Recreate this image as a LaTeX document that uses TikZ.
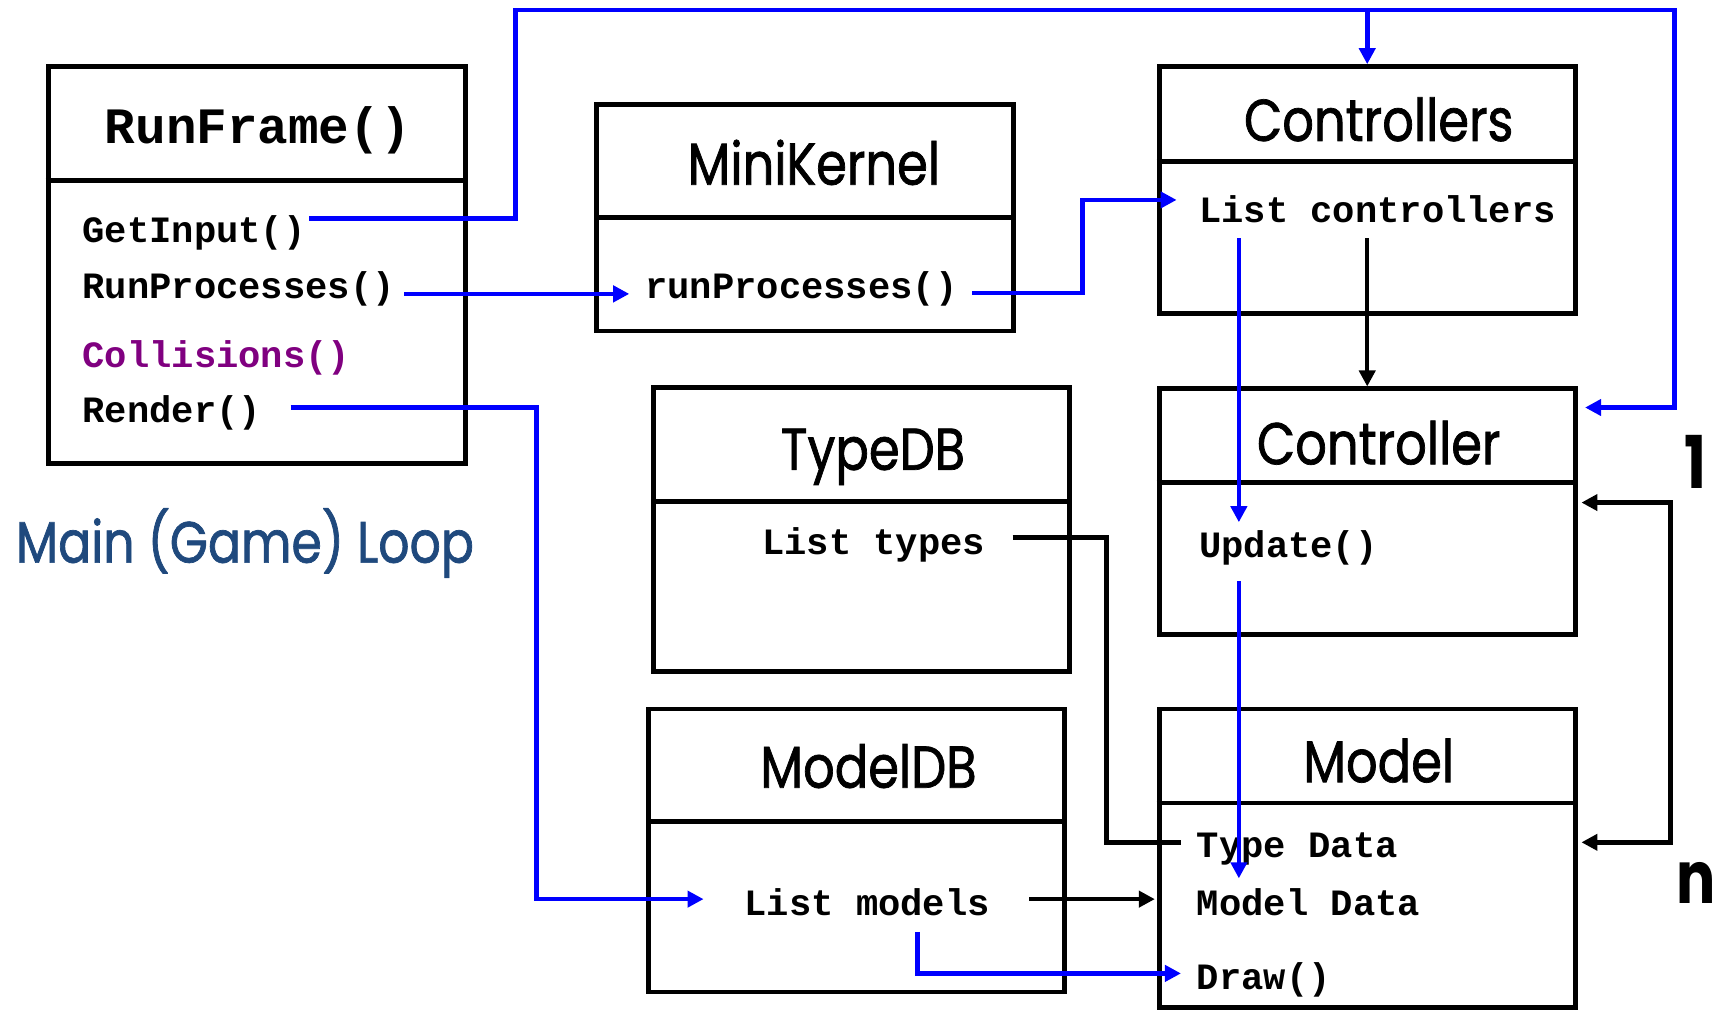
\documentclass[tikz,border=0pt]{standalone}
\usepackage{fontspec}
\usetikzlibrary{arrows.meta,fit}
\newfontfamily\codefont{Liberation Mono}
\newfontfamily\headfont{Poppins}[FakeStretch=0.84, FakeBold=1.2]
\newfontfamily\multfont{Poppins}[FakeStretch=0.8]
\definecolor{linkblue}{RGB}{0,0,255}
\definecolor{collpurple}{RGB}{128,0,128}
\definecolor{loopblue}{RGB}{31,73,125}

\begin{document}
\begin{tikzpicture}[
  x=0.3pt, y=-0.3pt,
  classbox/.style={draw, line width=1.35pt, inner sep=0pt},
  divider/.style={line width=1.35pt},
  code/.style={font=\codefont\bfseries\fontsize{10.2}{12}\selectfont, inner sep=0pt, anchor=base west},
  codetitle/.style={font=\codefont\bfseries\fontsize{14}{16}\selectfont, inner sep=0pt, anchor=base},
  title/.style={font=\headfont\fontsize{16.2}{19}\selectfont, inner sep=0pt, anchor=base},
  mult/.style={font=\multfont\bfseries\fontsize{20}{24}\selectfont, inner sep=0pt, anchor=base west},
  call/.style={draw=linkblue, line width=1.25pt},
  ref/.style={draw=black, line width=1.2pt},
  tipped/.style={-{Triangle[length=4.4pt,width=4.4pt]}},
  twotipped/.style={{Triangle[length=4.4pt,width=4.4pt]}-{Triangle[length=4.4pt,width=4.4pt]}}
]
\useasboundingbox (0,0) rectangle (1568,925);

% class boxes
\node[classbox, fit={(44,61)(426,424)}]    (runframe)    {};
\node[classbox, fit={(546,96)(928,303)}]   (minikernel)  {};
\node[classbox, fit={(1061,61)(1442,287)}] (controllers) {};
\node[classbox, fit={(1061,356)(1442,581)}](controller)  {};
\node[classbox, fit={(598,355)(979,615)}]  (typedb)      {};
\node[classbox, fit={(594,649)(974,908)}]  (modeldb)     {};
\node[classbox, fit={(1061,649)(1442,922)}](model)       {};

% header dividers
\draw[divider] (runframe.west |- 0,165)    -- (runframe.east |- 0,165);
\draw[divider] (minikernel.west |- 0,199)  -- (minikernel.east |- 0,199);
\draw[divider] (controllers.west |- 0,148) -- (controllers.east |- 0,148);
\draw[divider] (controller.west |- 0,442)  -- (controller.east |- 0,442);
\draw[divider] (typedb.west |- 0,459)      -- (typedb.east |- 0,459);
\draw[divider] (modeldb.west |- 0,752)     -- (modeldb.east |- 0,752);
\draw[divider] (model.west |- 0,735)       -- (model.east |- 0,735);

% titles
\node[codetitle] (t-runframe)    at (236,131)  {RunFrame()};
\node[title]     (t-minikernel)  at (745,169)  {MiniKernel};
\node[title]     (t-controllers) at (1262,129) {Controllers};
\node[title]     (t-controller)  at (1262,425) {Controller};
\node[title]     (t-typedb)      at (799,430)  {TypeDB};
\node[title]     (t-modeldb)     at (795,721)  {ModelDB};
\node[title]     (t-model)       at (1262,716) {Model};

% members
\node[code] (getinput)   at (75,222)   {GetInput()};
\node[code] (runprocs)   at (75,273)   {RunProcesses()};
\node[code, text=collpurple] (collisions) at (75,336) {Collisions()};
\node[code] (render)     at (75,387)   {Render()};
\node[code] (kprocs)     at (590,273)  {runProcesses()};
\node[code] (listctrl)   at (1097,204) {List controllers};
\node[code] (update)     at (1097,510) {Update()};
\node[code] (listtypes)  at (697,508)  {List types};
\node[code] (listmodels) at (681,838)  {List models};
\node[code] (typedata)   at (1095,785) {Type Data};
\node[code] (modeldata)  at (1095,838) {Model Data};
\node[code] (draw)       at (1095,906) {Draw()};

% captions
\node[anchor=base west, inner sep=0pt, text=loopblue,
      font=\headfont\fontsize{16}{20}\selectfont] (mainloop) at (14,515) {Main (Game) Loop};
\node[mult] (mult-one) at (1541,447) {1};
\node[mult] (mult-n)   at (1534,827) {n};

% connector end points
\coordinate (gi-out)  at (283,200);
\coordinate (topbranch) at (controllers.north |- 0,9);
\coordinate (rp-out)  at (370,269);
\coordinate (rp-in)   at (576,269);
\coordinate (mk-out)  at (890,268);
\coordinate (lc-in)   at (1077,183);
\coordinate (lc-blue) at (1134,218);
\coordinate (up-in)   at (1134,478);
\coordinate (lc-black) at (controllers.north |- 0,218);
\coordinate (up-out)  at (1134,532);
\coordinate (md-in)   at (1134,804);
\coordinate (rd-out)  at (266,373);
\coordinate (lm-in)   at (644,823);
\coordinate (lt-out)  at (927,492);
\coordinate (td-in)   at (1081,771);
\coordinate (lm-out)  at (942,823);
\coordinate (lm-down) at (840,853);
\coordinate (dr-in)   at (1081,891);

% call flow (blue)
\draw[call, tipped] (gi-out) -| (472,9) -- (1533,9) |- ([xshift=2pt]controller.east |- 0,373);
\draw[call, tipped] (topbranch) -- (controllers.north);
\draw[call, tipped] (rp-out) -- (rp-in);
\draw[call, tipped] (mk-out) -| (991,183) -- (lc-in);
\draw[call, tipped] (lc-blue) -- (up-in);
\draw[call, tipped] (up-out) -- (md-in);
\draw[call, tipped] (rd-out) -| (491,823) -- (lm-in);
\draw[call, tipped] (lm-down) |- (dr-in);

% references (black)
\draw[ref, tipped] (lc-black) -- (controller.north);
\draw[ref] (lt-out) -| (1013,771) -- (td-in);
\draw[ref, tipped] (lm-out) -- ([xshift=-0.5pt]model.west |- lm-out);
\draw[ref, twotipped] ([xshift=1pt]controller.east |- 0,460) -- (1529,460) |- ([xshift=1pt]model.east |- 0,771);
\end{tikzpicture}
\end{document}
